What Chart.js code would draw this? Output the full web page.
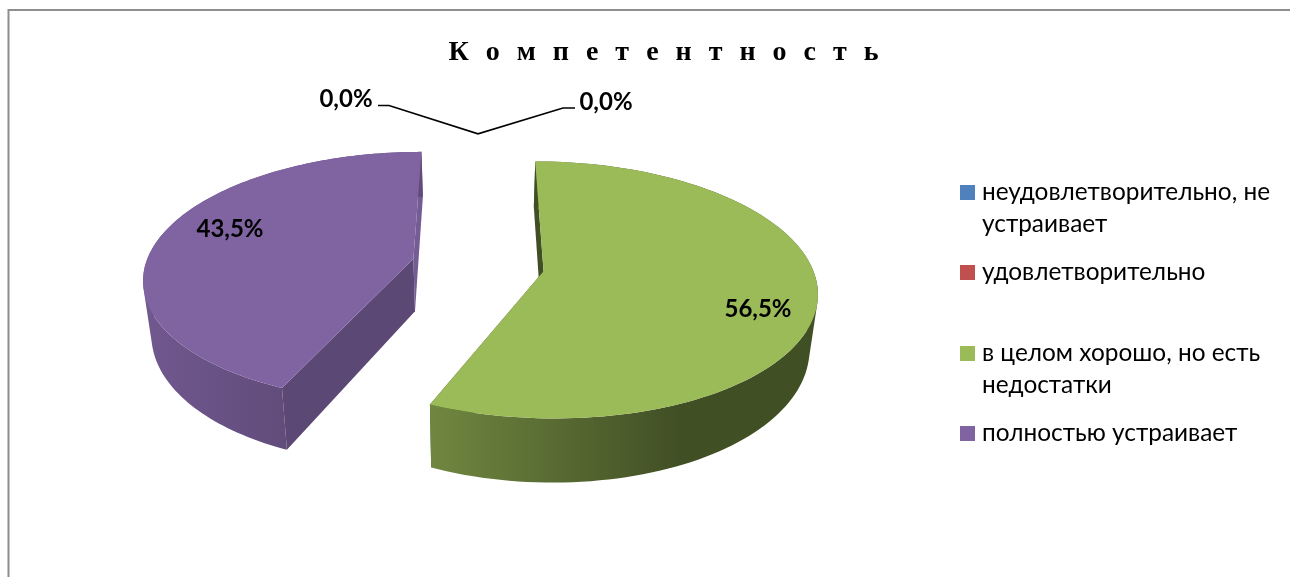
<!DOCTYPE html>
<html lang="ru">
<head>
<meta charset="utf-8">
<title>Компетентность</title>
<script src="https://cdn.jsdelivr.net/npm/chart.js@4"></script>
<style>
    html, body { margin: 0; padding: 0; background: #fff; }
    canvas { display: block; }
</style>
</head>
<body>
<canvas id="chart" width="1290" height="577"></canvas>
<script>
// Chart data
const chartTitle = 'К о м п е т е н т н о с т ь';
const categories = ['неудовлетворительно, не устраивает', 'удовлетворительно', 'в целом хорошо, но есть недостатки', 'полностью устраивает'];
const legendLines = [['неудовлетворительно, не', 'устраивает'], ['удовлетворительно'], ['в целом хорошо, но есть', 'недостатки'], ['полностью устраивает']];
const shareValues = [0, 0, 56.5, 43.5];
const sliceColors = ['#4F81BD', '#C0504D', '#9BBB59', '#8064A2'];

// Shades of the side walls, as a share of the slice colour
const wallLeftShade = [1, 1, 0.72, 0.88];
const wallRightShade = [1, 1, 0.42, 0.76];
const startCutShade = [1, 1, 0.42, 0.72];
const endCutShade = [1, 1, 0.42, 0.92];
const wallGradientX = [[0, 0], [0, 0], [430, 680], [143, 284]];

// Label layout
const labelBoxes = [[346, 99], [606, 102], [758, 309], [230, 229]];
const leaderEnds = [[[378, 105.5], [389, 105.5]], [[575, 108], [563, 108]]];
const legendRows = [192, 272, 353, 433];
const legendLineHeight = 32.5;

// Perspective of the pie plane, fitted to the picture
const view = { x: 478, y: 265, rx: 268, ry: 124, tilt: 0.144, depth: 53, explode: 0.248, shrink: 0.975 };

function project(p, q, bottom) {
    const w = 1 - view.tilt * q;
    const x = view.rx * p / w;
    const y = view.ry * q / w;
    if (!bottom) return [view.x + x, view.y + y];
    return [view.x + x * view.shrink, view.y + y + view.depth / Math.pow(w, 1.16)];
}

// Unit circle point of an arc, moved out along the middle of the arc
function arcPoint(arc, angle, radius, bottom) {
    const mid = (arc.startAngle + arc.endAngle) / 2;
    const p = Math.cos(mid) * view.explode + Math.cos(angle) * radius;
    const q = Math.sin(mid) * view.explode + Math.sin(angle) * radius;
    return project(p, q, bottom);
}

function shade(hex, factor) {
    const n = parseInt(hex.slice(1), 16);
    const c = [n >> 16, (n >> 8) & 255, n & 255].map(v => Math.round(v * factor));
    return 'rgb(' + c.join(',') + ')';
}

function addPolygon(ctx, points) {
    points.forEach((pt, i) => i ? ctx.lineTo(pt[0], pt[1]) : ctx.moveTo(pt[0], pt[1]));
    ctx.closePath();
}

function fillPath(ctx, points, fill) {
    ctx.beginPath();
    addPolygon(ctx, points);
    ctx.fillStyle = fill;
    ctx.fill();
}

function signedArea(points) {
    let sum = 0;
    points.forEach((pt, i) => {
        const next = points[(i + 1) % points.length];
        sum += pt[0] * next[1] - next[0] * pt[1];
    });
    return sum;
}

function rimPoints(arc, bottom) {
    const pts = [];
    const steps = 120;
    for (let s = 0; s <= steps; s++) {
        pts.push(arcPoint(arc, arc.startAngle + (arc.endAngle - arc.startAngle) * s / steps, 1, bottom));
    }
    return pts;
}

function drawSlice(ctx, arc, i) {
    const color = sliceColors[i];
    const top = rimPoints(arc, false);
    const low = rimPoints(arc, true);
    const last = top.length - 1;
    const apex = arcPoint(arc, 0, 0, false);
    const apexLow = arcPoint(arc, 0, 0, true);

    fillPath(ctx, [apex, top[last], low[last], apexLow], shade(color, endCutShade[i]));

    // curved wall: all strips in one path, same winding, so there are no seams
    const grad = ctx.createLinearGradient(wallGradientX[i][0], 0, wallGradientX[i][1], 0);
    grad.addColorStop(0, shade(color, wallLeftShade[i]));
    grad.addColorStop(1, shade(color, wallRightShade[i]));
    ctx.beginPath();
    for (let s = 0; s < last; s++) {
        const strip = [top[s], top[s + 1], low[s + 1], low[s]];
        addPolygon(ctx, signedArea(strip) < 0 ? strip.reverse() : strip);
    }
    ctx.fillStyle = grad;
    ctx.fill();

    fillPath(ctx, [apex, top[0], low[0], apexLow], shade(color, startCutShade[i]));

    // top face
    fillPath(ctx, [apex].concat(top), color);
}

const pie3d = {
    id: 'pie3d',
    beforeDraw(chart) {
        const ctx = chart.ctx;
        // frame of the picture
        ctx.save();
        ctx.strokeStyle = '#8e8e8e';
        ctx.lineWidth = 2;
        ctx.beginPath();
        ctx.moveTo(8.5, 577);
        ctx.lineTo(8.5, 10);
        ctx.lineTo(1290, 10);
        ctx.stroke();
        ctx.restore();
        // the title block draws next and keeps this spacing
        ctx.letterSpacing = '5px';
    },
    beforeDatasetDraw(chart) {
        const ctx = chart.ctx;
        ctx.letterSpacing = '0px';
        const arcs = chart.getDatasetMeta(0).data;
        arcs.forEach((arc, i) => {
            if (shareValues[i] > 0) drawSlice(ctx, arc, i);
        });
        return false;
    },
    afterDatasetsDraw(chart) {
        const ctx = chart.ctx;
        const arcs = chart.getDatasetMeta(0).data;
        ctx.save();

        // leader lines of the two empty slices
        const zero = arcPoint(arcs[0], arcs[0].startAngle, 1, false);
        ctx.strokeStyle = '#000';
        ctx.lineWidth = 1.6;
        ctx.beginPath();
        ctx.moveTo(leaderEnds[0][0][0], leaderEnds[0][0][1]);
        ctx.lineTo(leaderEnds[0][1][0], leaderEnds[0][1][1]);
        ctx.lineTo(zero[0], zero[1]);
        ctx.lineTo(leaderEnds[1][1][0], leaderEnds[1][1][1]);
        ctx.lineTo(leaderEnds[1][0][0], leaderEnds[1][0][1]);
        ctx.stroke();

        // value labels
        ctx.fillStyle = '#000';
        ctx.font = 'bold 24px Lato';
        ctx.textAlign = 'center';
        ctx.textBaseline = 'middle';
        shareValues.forEach((v, i) => {
            ctx.fillText(v.toFixed(1).replace('.', ',') + '%', labelBoxes[i][0], labelBoxes[i][1]);
        });

        // legend
        ctx.textAlign = 'left';
        ctx.font = '24.4px Lato';
        categories.forEach((name, i) => {
            ctx.fillStyle = sliceColors[i];
            ctx.fillRect(960, legendRows[i] - 7, 15, 15);
            ctx.fillStyle = '#000';
            legendLines[i].forEach((line, n) => {
                ctx.fillText(line, 982, legendRows[i] + n * legendLineHeight);
            });
        });
        ctx.restore();
    }
};

new Chart(document.getElementById('chart'), {
    type: 'pie',
    data: {
        labels: categories,
        datasets: [{ data: shareValues, backgroundColor: sliceColors, borderWidth: 0 }]
    },
    options: {
        responsive: false,
        animation: false,
        layout: { padding: { left: 42, top: 36 } },
        plugins: {
            legend: { display: false },
            tooltip: { enabled: false },
            title: {
                display: true,
                text: chartTitle,
                color: '#000',
                font: { family: 'Liberation Serif', size: 28, weight: 'bold' },
                padding: 0
            }
        }
    },
    plugins: [pie3d]
});
</script>
</body>
</html>
